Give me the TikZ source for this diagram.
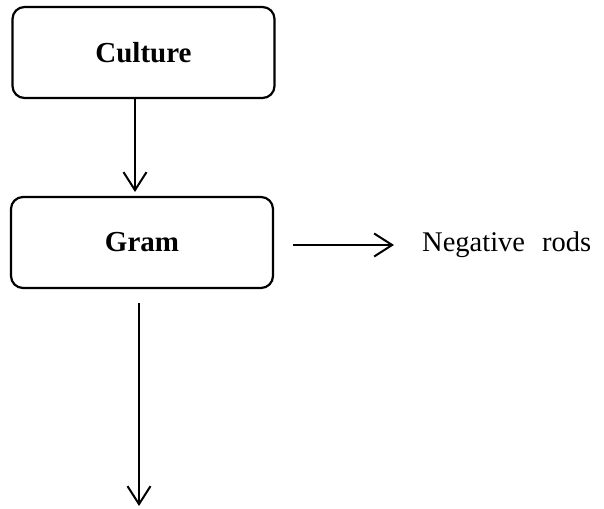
\documentclass[tikz,border=0pt]{standalone}
\usepackage{fontspec}
\setmainfont{Liberation Serif}
\usetikzlibrary{arrows.meta,calc}
\tikzset{
  flowbox/.style={draw=black, line width=2.2pt, rounded corners=12pt, minimum width=262pt, minimum height=91pt, inner sep=0pt, font=\fontsize{29}{34}\selectfont\bfseries},
  flowarrow/.style={line width=2pt, -{Straight Barb[length=18pt,width=23pt,line width=2pt]}},
  plain/.style={inner sep=0pt, font=\fontsize{28.5}{34}\selectfont}
}
\begin{document}
\begin{tikzpicture}[x=1pt,y=1pt]
\useasboundingbox (0,0) rectangle (604,-508);
\node[flowbox] (culture) at (143.5,-52.5) {Culture};
\node[flowbox] (gram) at (142,-242.5) {Gram};
\node[plain, anchor=west] (neg) at (422,-245) {Negative\hspace{17pt}rods};
\coordinate (cgend) at (135,-192);
\coordinate (bottom) at (139,-506);
\draw[flowarrow] (cgend |- culture.south) -- (cgend);
\draw[flowarrow] ($(gram.east |- neg.west)+(19,0)$) -- ($(neg.west)+(-28,0)$);
\draw[flowarrow] ($(bottom |- gram.south)+(0,-14)$) -- (bottom);
\end{tikzpicture}
\end{document}
